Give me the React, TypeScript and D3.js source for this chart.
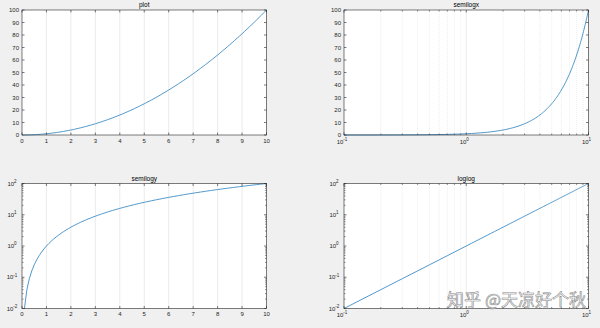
import React from "react";
import * as d3 from "d3";

const xs = [0.1,0.2,0.3,0.4,0.5,0.6,0.7,0.8,0.9,1,1.1,1.2,1.3,1.4,1.5,1.6,1.7,1.8,1.9,2,2.1,2.2,2.3,2.4,2.5,2.6,2.7,2.8,2.9,3,3.1,3.2,3.3,3.4,3.5,3.6,3.7,3.8,3.9,4,4.1,4.2,4.3,4.4,4.5,4.6,4.7,4.8,4.9,5,5.1,5.2,5.3,5.4,5.5,5.6,5.7,5.8,5.9,6,6.1,6.2,6.3,6.4,6.5,6.6,6.7,6.8,6.9,7,7.1,7.2,7.3,7.4,7.5,7.6,7.7,7.8,7.9,8,8.1,8.2,8.3,8.4,8.5,8.6,8.7,8.8,8.9,9,9.1,9.2,9.3,9.4,9.5,9.6,9.7,9.8,9.9,10];
const ys = [0.01,0.04,0.09,0.16,0.25,0.36,0.49,0.64,0.81,1,1.21,1.44,1.69,1.96,2.25,2.56,2.89,3.24,3.61,4,4.41,4.84,5.29,5.76,6.25,6.76,7.29,7.84,8.41,9,9.61,10.24,10.89,11.56,12.25,12.96,13.69,14.44,15.21,16,16.81,17.64,18.49,19.36,20.25,21.16,22.09,23.04,24.01,25,26.01,27.04,28.09,29.16,30.25,31.36,32.49,33.64,34.81,36,37.21,38.44,39.69,40.96,42.25,43.56,44.89,46.24,47.61,49,50.41,51.84,53.29,54.76,56.25,57.76,59.29,60.84,62.41,64,65.61,67.24,68.89,70.56,72.25,73.96,75.69,77.44,79.21,81,82.81,84.64,86.49,88.36,90.25,92.16,94.09,96.04,98.01,100];

const titles = ["plot", "semilogx", "semilogy", "loglog"];
const linXTicks = [0,1,2,3,4,5,6,7,8,9,10];
const linYTicks = [0,10,20,30,40,50,60,70,80,90,100];
const logXMajor = [-1, 0, 1];
const logYMajor = [-2, -1, 0, 1, 2];
const minorMultipliers = [2,3,4,5,6,7,8,9];
const watermark = "知乎 @天凉好个秋";

const FONT = "'Liberation Sans', Arial, Helvetica, sans-serif";
const AX = "#262626";
const GRID = "#e3e3e3";
const LINE = "#3d8cc4";

type PanelProps = { x0: number; x1: number; y0: number; y1: number; logX: boolean; logY: boolean; title: string };

function minorsFor(exps: number[]) {
  const out: number[] = [];
  for (let i = 0; i < exps.length - 1; i++) for (const m of minorMultipliers) out.push(m * Math.pow(10, exps[i]));
  return out;
}

function LogLabel({ x, y, e, anchor }: { x: number; y: number; e: number; anchor: string }) {
  return (
    <text x={x} y={y} fontSize={6} fill={AX} fontFamily={FONT} textAnchor={anchor as any}>
      10<tspan dy={-2.6} fontSize={4.5}>{String(e)}</tspan>
    </text>
  );
}

function Panel({ x0, x1, y0, y1, logX, logY, title }: PanelProps) {
  const xScale: any = logX ? d3.scaleLog().domain([0.1, 10]).range([x0, x1]) : d3.scaleLinear().domain([0, 10]).range([x0, x1]);
  const yScale: any = logY ? d3.scaleLog().domain([0.01, 100]).range([y1, y0]) : d3.scaleLinear().domain([0, 100]).range([y1, y0]);
  const pts = xs.map((x, i) => [x, ys[i]] as [number, number]);
  const line = d3.line<[number, number]>().x(d => xScale(d[0])).y(d => yScale(d[1]))(pts) || "";

  const xMajor = logX ? logXMajor.map(e => Math.pow(10, e)) : linXTicks;
  const xMinor = logX ? minorsFor(logXMajor) : [];
  const yMajor = logY ? logYMajor.map(e => Math.pow(10, e)) : linYTicks;
  const yMinor = logY ? minorsFor(logYMajor) : [];
  const tl = 2.5, tlm = 1.5;

  return (
    <g>
      <rect x={x0} y={y0} width={x1 - x0} height={y1 - y0} fill="#ffffff" />
      {xMinor.map((v, i) => (
        <line key={"gm" + i} x1={xScale(v)} x2={xScale(v)} y1={y0} y2={y1} stroke={GRID} strokeWidth={0.6} strokeDasharray="1,1" />
      ))}
      {xMajor.slice(1, -1).map((v, i) => (
        <line key={"g" + i} x1={xScale(v)} x2={xScale(v)} y1={y0} y2={y1} stroke={GRID} strokeWidth={0.7} />
      ))}
      <path d={line} fill="none" stroke={LINE} strokeWidth={0.9} />
      <rect x={x0} y={y0} width={x1 - x0} height={y1 - y0} fill="none" stroke={AX} strokeWidth={0.6} />
      {xMajor.map((v, i) => (
        <g key={"xt" + i}>
          <line x1={xScale(v)} x2={xScale(v)} y1={y1} y2={y1 - tl} stroke={AX} strokeWidth={0.6} />
          <line x1={xScale(v)} x2={xScale(v)} y1={y0} y2={y0 + tl} stroke={AX} strokeWidth={0.6} />
        </g>
      ))}
      {xMinor.map((v, i) => (
        <g key={"xm" + i}>
          <line x1={xScale(v)} x2={xScale(v)} y1={y1} y2={y1 - tlm} stroke={AX} strokeWidth={0.5} />
          <line x1={xScale(v)} x2={xScale(v)} y1={y0} y2={y0 + tlm} stroke={AX} strokeWidth={0.5} />
        </g>
      ))}
      {yMajor.map((v, i) => (
        <g key={"yt" + i}>
          <line x1={x0} x2={x0 + tl} y1={yScale(v)} y2={yScale(v)} stroke={AX} strokeWidth={0.6} />
          <line x1={x1} x2={x1 - tl} y1={yScale(v)} y2={yScale(v)} stroke={AX} strokeWidth={0.6} />
        </g>
      ))}
      {yMinor.map((v, i) => (
        <g key={"ym" + i}>
          <line x1={x0} x2={x0 + tlm} y1={yScale(v)} y2={yScale(v)} stroke={AX} strokeWidth={0.5} />
          <line x1={x1} x2={x1 - tlm} y1={yScale(v)} y2={yScale(v)} stroke={AX} strokeWidth={0.5} />
        </g>
      ))}
      {xMajor.map((v, i) =>
        logX ? (
          <LogLabel key={"xl" + i} x={xScale(v) - 2} y={y1 + 8.5} e={logXMajor[i]} anchor="middle" />
        ) : (
          <text key={"xl" + i} x={xScale(v)} y={y1 + 7.5} fontSize={6} fill={AX} fontFamily={FONT} textAnchor="middle">{v}</text>
        )
      )}
      {yMajor.map((v, i) =>
        logY ? (
          <LogLabel key={"yl" + i} x={x0 - 10} y={yScale(v) + 2} e={logYMajor[i]} anchor="middle" />
        ) : (
          <text key={"yl" + i} x={x0 - 3} y={yScale(v) + 2} fontSize={6} fill={AX} fontFamily={FONT} textAnchor="end">{v}</text>
        )
      )}
      <text x={(x0 + x1) / 2} y={y0 - 3} fontSize={6.5} fill="#000" fontFamily={FONT} textAnchor="middle">{title}</text>
    </g>
  );
}

export default function App() {
  const cols = [[22, 266.5], [344, 588.5]];
  const rows = [[10, 135], [183.5, 308.5]];
  const cfg = [
    { logX: false, logY: false },
    { logX: true, logY: false },
    { logX: false, logY: true },
    { logX: true, logY: true },
  ];
  return (
    <svg width={600} height={328} style={{ position: "absolute", left: 0, top: 0, display: "block" }}>
      <rect x={0} y={0} width={600} height={328} fill="#f0f0f0" />
      {cfg.map((c, i) => {
        const [x0, x1] = cols[i % 2];
        const [y0, y1] = rows[Math.floor(i / 2)];
        return <Panel key={i} x0={x0} x1={x1} y0={y0} y1={y1} logX={c.logX} logY={c.logY} title={titles[i]} />;
      })}
      <text x={586} y={306} fontSize={17} textAnchor="end" fontFamily="'Noto Sans CJK SC', sans-serif" fill="#ffffff" fillOpacity={0.75} stroke="#8a8a8a" strokeWidth={0.6}>
        {watermark}
      </text>
    </svg>
  );
}
